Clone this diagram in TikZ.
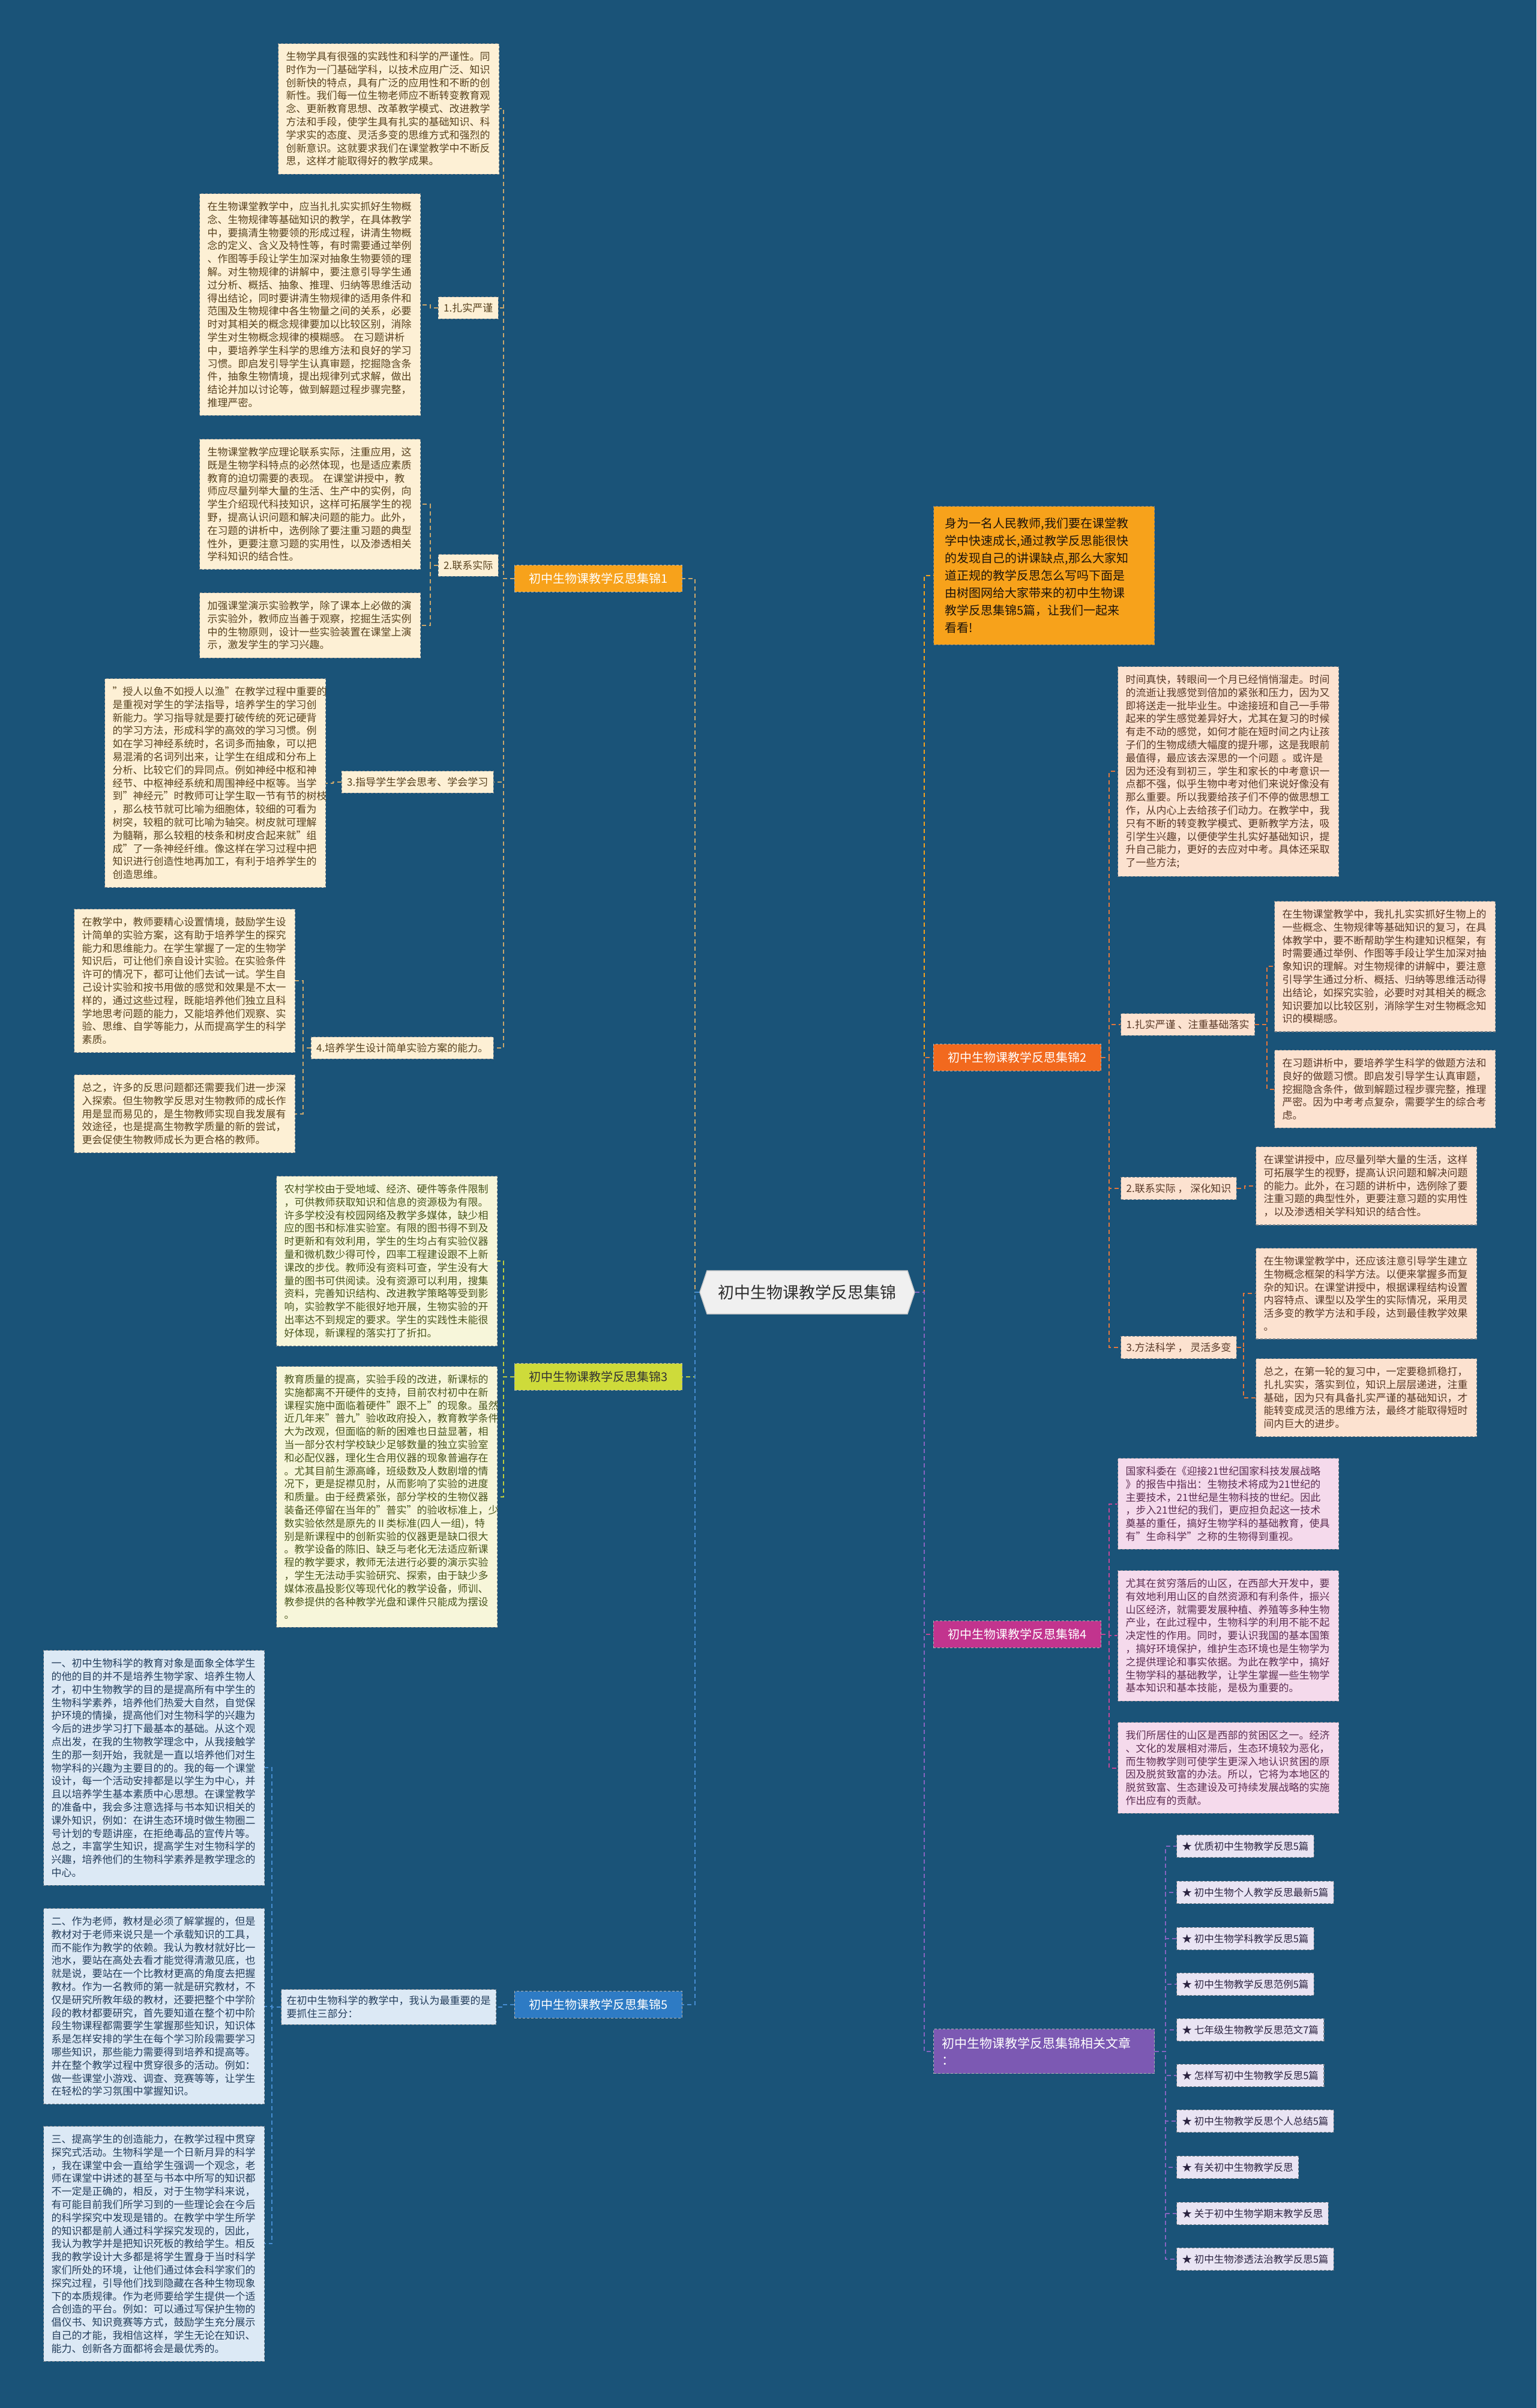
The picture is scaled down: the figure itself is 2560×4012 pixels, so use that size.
\documentclass[tikz,border=0pt]{standalone}
\usepackage{fontspec}
\setmainfont{Noto Sans CJK SC}
\usetikzlibrary{shapes.misc,shapes.symbols,calc}
\definecolor{bgc}{RGB}{26,83,120}
\definecolor{fillA}{RGB}{253,240,213}
\definecolor{textA}{RGB}{88,66,30}
\definecolor{lineA}{RGB}{201,166,108}
\definecolor{fillB}{RGB}{252,226,208}
\definecolor{textB}{RGB}{88,56,38}
\definecolor{lineB}{RGB}{226,118,60}
\definecolor{fillC}{RGB}{247,246,218}
\definecolor{textC}{RGB}{74,86,30}
\definecolor{lineC}{RGB}{190,205,60}
\definecolor{fillD}{RGB}{245,218,236}
\definecolor{textD}{RGB}{92,46,82}
\definecolor{lineD}{RGB}{196,70,150}
\definecolor{fillE}{RGB}{220,233,245}
\definecolor{textE}{RGB}{36,62,92}
\definecolor{lineE}{RGB}{70,140,208}
\definecolor{fillR}{RGB}{233,228,243}
\definecolor{textR}{RGB}{43,35,64}
\definecolor{lineR}{RGB}{134,100,192}
\definecolor{brA}{RGB}{247,162,27}
\definecolor{brB}{RGB}{242,105,30}
\definecolor{brC}{RGB}{206,219,58}
\definecolor{brD}{RGB}{194,52,142}
\definecolor{brE}{RGB}{46,123,196}
\definecolor{brR}{RGB}{124,89,179}
\definecolor{bordc}{RGB}{120,128,136}
\tikzset{
  boxbase/.style={anchor=north west, align=left, text width=342pt, inner xsep=13pt, inner ysep=13.5pt,
    font=\fontsize{17}{21.8}\selectfont, draw=bordc, dash pattern=on 4pt off 3pt, line width=1.2pt},
  boxA/.style={boxbase, fill=fillA, text=textA},
  boxB/.style={boxbase, fill=fillB, text=textB},
  boxC/.style={boxbase, fill=fillC, text=textC},
  boxD/.style={boxbase, fill=fillD, text=textD},
  boxE/.style={boxbase, fill=fillE, text=textE},
  labbase/.style={inner xsep=9pt, inner ysep=10.5pt, font=\fontsize{17}{21.8}\selectfont,
    draw=bordc, dash pattern=on 4pt off 3pt, line width=1.2pt},
  labA/.style={labbase, fill=fillA, text=textA},
  labB/.style={labbase, fill=fillB, text=textB},
  labE/.style={labbase, fill=fillE, text=textE, align=left},
  itemR/.style={labbase, anchor=west, fill=fillR, text=textR, font=\fontsize{16.5}{20}\selectfont, inner ysep=11pt},
  branch/.style={inner xsep=24pt, inner ysep=13pt, font=\fontsize{20}{24}\selectfont, text=white,
    draw=black!30, dash pattern=on 4pt off 3pt, line width=1pt},
  conn/.style={dash pattern=on 7pt off 5pt, line width=2pt},
  lnA/.style={conn, draw=lineA},
  lnB/.style={conn, draw=lineB},
  lnC/.style={conn, draw=lineC},
  lnD/.style={conn, draw=lineD},
  lnE/.style={conn, draw=lineE},
  lnR/.style={conn, draw=lineR},
  lnI/.style={conn, draw=brA}
}
\begin{document}
\begin{tikzpicture}[x=1pt,y=-1pt]
\fill[bgc] (0,0) rectangle (2560,4012);
\useasboundingbox (0,0) rectangle (2560,4012);

% ---------- centre ----------
\node[signal, signal to=west and east, signal pointer angle=143, draw=black!20, line width=1.5pt, fill=black!6, text=black!82,
  font=\fontsize{27}{32}\selectfont, minimum width=358pt, minimum height=72pt, inner xsep=14pt] (c) at (1345,2153) {初中生物课教学反思集锦};

% ---------- branches ----------
\node[branch, fill=brA] (b1) at (997,964) {初中生物课教学反思集锦1};
\node[branch, fill=brC, text=black!80] (b3) at (997,2294) {初中生物课教学反思集锦3};
\node[branch, fill=brE] (b5) at (997,3340) {初中生物课教学反思集锦5};
\node[branch, fill=brB] (b2) at (1695,1762) {初中生物课教学反思集锦2};
\node[branch, fill=brD] (b4) at (1695,2723) {初中生物课教学反思集锦4};

\node[anchor=north west, align=left, text width=330pt, inner xsep=19pt, inner ysep=19pt, fill=brA, text=black!85!brown,
  font=\fontsize{20}{29}\selectfont, draw=bordc, dash pattern=on 4pt off 3pt, line width=1.2pt] (intro) at (1555,843)
 {身为一名人民教师,我们要在课堂教\\学中快速成长,通过教学反思能很快\\的发现自己的讲课缺点,那么大家知\\道正规的教学反思怎么写吗下面是\\由树图网给大家带来的初中生物课\\教学反思集锦5篇，让我们一起来\\看看!};

\node[anchor=north west, align=left, text width=340pt, inner xsep=14pt, inner ysep=14pt, fill=brR, text=white,
  font=\fontsize{21}{28}\selectfont, draw=black!30, dash pattern=on 4pt off 3pt, line width=1pt] (rel) at (1555,3380)
 {初中生物课教学反思集锦相关文章\\：};

% ---------- section 1 ----------
\node[boxA] (box1) at (463,72) {生物学具有很强的实践性和科学的严谨性。同\\时作为一门基础学科，以技术应用广泛、知识\\创新快的特点，具有广泛的应用性和不断的创\\新性。我们每一位生物老师应不断转变教育观\\念、更新教育思想、改革教学模式、改进教学\\方法和手段，使学生具有扎实的基础知识、科\\学求实的态度、灵活多变的思维方式和强烈的\\创新意识。这就要求我们在课堂教学中不断反\\思，这样才能取得好的教学成果。};
\node[boxA] (box2) at (332,322) {在生物课堂教学中，应当扎扎实实抓好生物概\\念、生物规律等基础知识的教学，在具体教学\\中，要搞清生物要领的形成过程，讲清生物概\\念的定义、含义及特性等，有时需要通过举例\\、作图等手段让学生加深对抽象生物要领的理\\解。对生物规律的讲解中，要注意引导学生通\\过分析、概括、抽象、推理、归纳等思维活动\\得出结论，同时要讲清生物规律的适用条件和\\范围及生物规律中各生物量之间的关系，必要\\时对其相关的概念规律要加以比较区别，消除\\学生对生物概念规律的模糊感。 在习题讲析\\中，要培养学生科学的思维方法和良好的学习\\习惯。即启发引导学生认真审题，挖掘隐含条\\件，抽象生物情境，提出规律列式求解，做出\\结论并加以讨论等，做到解题过程步骤完整，\\推理严密。};
\node[labA, anchor=east] (lab1) at (831,513) {1.扎实严谨};
\node[boxA] (box3) at (332,731) {生物课堂教学应理论联系实际，注重应用，这\\既是生物学科特点的必然体现，也是适应素质\\教育的迫切需要的表现。 在课堂讲授中，教\\师应尽量列举大量的生活、生产中的实例，向\\学生介绍现代科技知识，这样可拓展学生的视\\野，提高认识问题和解决问题的能力。此外，\\在习题的讲析中，选例除了要注重习题的典型\\性外，更要注意习题的实用性，以及渗透相关\\学科知识的结合性。};
\node[boxA] (box4) at (332,987) {加强课堂演示实验教学，除了课本上必做的演\\示实验外，教师应当善于观察，挖掘生活实例\\中的生物原则，设计一些实验装置在课堂上演\\示，激发学生的学习兴趣。};
\node[labA, anchor=east] (lab2) at (831,942) {2.联系实际};
\node[boxA] (box5) at (174,1130) {"授人以鱼不如授人以渔"在教学过程中重要的\\是重视对学生的学法指导，培养学生的学习创\\新能力。学习指导就是要打破传统的死记硬背\\的学习方法，形成科学的高效的学习习惯。例\\如在学习神经系统时，名词多而抽象，可以把\\易混淆的名词列出来，让学生在组成和分布上\\分析、比较它们的异同点。例如神经中枢和神\\经节、中枢神经系统和周围神经中枢等。当学\\到"神经元"时教师可让学生取一节有节的树枝\\，那么枝节就可比喻为细胞体，较细的可看为\\树突，较粗的就可比喻为轴突。树皮就可理解\\为髓鞘，那么较粗的枝条和树皮合起来就"组\\成"了一条神经纤维。像这样在学习过程中把\\知识进行创造性地再加工，有利于培养学生的\\创造思维。};
\node[labA, anchor=east] (lab3) at (823,1303) {3.指导学生学会思考、学会学习};
\node[boxA] (box6) at (123,1514) {在教学中，教师要精心设置情境，鼓励学生设\\计简单的实验方案，这有助于培养学生的探究\\能力和思维能力。在学生掌握了一定的生物学\\知识后，可让他们亲自设计实验。在实验条件\\许可的情况下，都可让他们去试一试。学生自\\己设计实验和按书用做的感觉和效果是不太一\\样的，通过这些过程，既能培养他们独立且科\\学地思考问题的能力，又能培养他们观察、实\\验、思维、自学等能力，从而提高学生的科学\\素质。};
\node[boxA] (box7) at (123,1790) {总之，许多的反思问题都还需要我们进一步深\\入探索。但生物教学反思对生物教师的成长作\\用是显而易见的，是生物教师实现自我发展有\\效途径，也是提高生物教学质量的新的尝试，\\更会促使生物教师成长为更合格的教师。};
\node[labA, anchor=east] (lab4) at (823,1746) {4.培养学生设计简单实验方案的能力。};

% ---------- section 3 ----------
\node[boxC] (box8) at (460,1959) {农村学校由于受地域、经济、硬件等条件限制\\，可供教师获取知识和信息的资源极为有限。\\许多学校没有校园网络及教学多媒体，缺少相\\应的图书和标准实验室。有限的图书得不到及\\时更新和有效利用，学生的生均占有实验仪器\\量和微机数少得可怜，四率工程建设跟不上新\\课改的步伐。教师没有资料可查，学生没有大\\量的图书可供阅读。没有资源可以利用，搜集\\资料，完善知识结构、改进教学策略等受到影\\响，实验教学不能很好地开展，生物实验的开\\出率达不到规定的要求。学生的实践性未能很\\好体现，新课程的落实打了折扣。};
\node[boxC] (box9) at (460,2276) {教育质量的提高，实验手段的改进，新课标的\\实施都离不开硬件的支持，目前农村初中在新\\课程实施中面临着硬件"跟不上"的现象。虽然\\近几年来"普九"验收政府投入，教育教学条件\\大为改观，但面临的新的困难也日益显著，相\\当一部分农村学校缺少足够数量的独立实验室\\和必配仪器，理化生合用仪器的现象普遍存在\\。尤其目前生源高峰，班级数及人数剧增的情\\况下，更是捉襟见肘，从而影响了实验的进度\\和质量。由于经费紧张，部分学校的生物仪器\\装备还停留在当年的"普实"的验收标准上，少\\数实验依然是原先的Ⅱ类标准(四人一组)，特\\别是新课程中的创新实验的仪器更是缺口很大\\。教学设备的陈旧、缺乏与老化无法适应新课\\程的教学要求，教师无法进行必要的演示实验\\，学生无法动手实验研究、探索，由于缺少多\\媒体液晶投影仪等现代化的教学设备，师训、\\教参提供的各种教学光盘和课件只能成为摆设\\。};

% ---------- section 5 ----------
\node[boxE] (box10) at (72,2749) {一、初中生物科学的教育对象是面象全体学生\\的他的目的并不是培养生物学家、培养生物人\\才，初中生物教学的目的是提高所有中学生的\\生物科学素养，培养他们热爱大自然，自觉保\\护环境的情操，提高他们对生物科学的兴趣为\\今后的进步学习打下最基本的基础。从这个观\\点出发，在我的生物教学理念中，从我接触学\\生的那一刻开始，我就是一直以培养他们对生\\物学科的兴趣为主要目的的。我的每一个课堂\\设计，每一个活动安排都是以学生为中心，并\\且以培养学生基本素质中心思想。在课堂教学\\的准备中，我会多注意选择与书本知识相关的\\课外知识，例如：在讲生态环境时做生物圈二\\号计划的专题讲座，在拒绝毒品的宣传片等。\\总之，丰富学生知识，提高学生对生物科学的\\兴趣，培养他们的生物科学素养是教学理念的\\中心。};
\node[boxE] (box11) at (72,3179) {二、作为老师，教材是必须了解掌握的，但是\\教材对于老师来说只是一个承载知识的工具，\\而不能作为教学的依赖。我认为教材就好比一\\池水，要站在高处去看才能觉得清澈见底，也\\就是说，要站在一个比教材更高的角度去把握\\教材。作为一名教师的第一就是研究教材，不\\仅是研究所教年级的教材，还要把整个中学阶\\段的教材都要研究，首先要知道在整个初中阶\\段生物课程都需要学生掌握那些知识，知识体\\系是怎样安排的学生在每个学习阶段需要学习\\哪些知识，那些能力需要得到培养和提高等。\\并在整个教学过程中贯穿很多的活动。例如：\\做一些课堂小游戏、调查、竞赛等等，让学生\\在轻松的学习氛围中掌握知识。};
\node[boxE] (box12) at (72,3542) {三、提高学生的创造能力，在教学过程中贯穿\\探究式活动。生物科学是一个日新月异的科学\\，我在课堂中会一直给学生强调一个观念，老\\师在课堂中讲述的甚至与书本中所写的知识都\\不一定是正确的，相反，对于生物学科来说，\\有可能目前我们所学习到的一些理论会在今后\\的科学探究中发现是错的。在教学中学生所学\\的知识都是前人通过科学探究发现的，因此，\\我认为教学并是把知识死板的教给学生。相反\\我的教学设计大多都是将学生置身于当时科学\\家们所处的环境，让他们通过体会科学家们的\\探究过程，引导他们找到隐藏在各种生物现象\\下的本质规律。作为老师要给学生提供一个适\\合创造的平台。例如：可以通过写保护生物的\\倡仪书、知识竟赛等方式，鼓励学生充分展示\\自己的才能，我相信这样，学生无论在知识、\\能力、创新各方面都将会是最优秀的。};
\node[labE, anchor=north west] (lab5) at (468,3314) {在初中生物科学的教学中，我认为最重要的是\\要抓住三部分：};

% ---------- section 2 ----------
\node[boxB] (box13) at (1862,1110) {时间真快，转眼间一个月已经悄悄溜走。时间\\的流逝让我感觉到倍加的紧张和压力，因为又\\即将送走一批毕业生。中途接班和自己一手带\\起来的学生感觉差异好大，尤其在复习的时候\\有走不动的感觉，如何才能在短时间之内让孩\\子们的生物成绩大幅度的提升哪，这是我眼前\\最值得，最应该去深思的一个问题 。或许是\\因为还没有到初三，学生和家长的中考意识一\\点都不强，似乎生物中考对他们来说好像没有\\那么重要。所以我要给孩子们不停的做思想工\\作，从内心上去给孩子们动力。在教学中，我\\只有不断的转变教学模式、更新教学方法，吸\\引学生兴趣，以便使学生扎实好基础知识，提\\升自己能力，更好的去应对中考。具体还采取\\了一些方法;};
\node[labB, anchor=west] (labr1) at (1867,1707) {1.扎实严谨 、注重基础落实};
\node[boxB] (box14) at (2123,1501) {在生物课堂教学中，我扎扎实实抓好生物上的\\一些概念、生物规律等基础知识的复习，在具\\体教学中，要不断帮助学生构建知识框架，有\\时需要通过举例、作图等手段让学生加深对抽\\象知识的理解。对生物规律的讲解中，要注意\\引导学生通过分析、概括、归纳等思维活动得\\出结论，如探究实验，必要时对其相关的概念\\知识要加以比较区别，消除学生对生物概念知\\识的模糊感。};
\node[boxB] (box15) at (2123,1749) {在习题讲析中，要培养学生科学的做题方法和\\良好的做题习惯。即启发引导学生认真审题，\\挖掘隐含条件，做到解题过程步骤完整，推理\\严密。因为中考考点复杂，需要学生的综合考\\虑。};
\node[labB, anchor=west] (labr2) at (1867,1980) {2.联系实际 ， 深化知识};
\node[boxB] (box16) at (2092,1910) {在课堂讲授中，应尽量列举大量的生活，这样\\可拓展学生的视野，提高认识问题和解决问题\\的能力。此外，在习题的讲析中，选例除了要\\注重习题的典型性外，更要注意习题的实用性\\，以及渗透相关学科知识的结合性。};
\node[labB, anchor=west] (labr3) at (1867,2245) {3.方法科学 ， 灵活多变};
\node[boxB] (box17) at (2092,2079) {在生物课堂教学中，还应该注意引导学生建立\\生物概念框架的科学方法。以便来掌握多而复\\杂的知识。在课堂讲授中，根据课程结构设置\\内容特点、课型以及学生的实际情况，采用灵\\活多变的教学方法和手段，达到最佳教学效果\\。};
\node[boxB] (box18) at (2092,2263) {总之，在第一轮的复习中，一定要稳抓稳打，\\扎扎实实，落实到位，知识上层层递进，注重\\基础，因为只有具备扎实严谨的基础知识，才\\能转变成灵活的思维方法，最终才能取得短时\\间内巨大的进步。};

% ---------- section 4 ----------
\node[boxD] (box19) at (1862,2429) {国家科委在《迎接21世纪国家科技发展战略\\》的报告中指出：生物技术将成为21世纪的\\主要技术，21世纪是生物科技的世纪。因此\\，步入21世纪的我们，更应担负起这一技术\\奠基的重任，搞好生物学科的基础教育，使具\\有"生命科学"之称的生物得到重视。};
\node[boxD] (box20) at (1862,2616) {尤其在贫穷落后的山区，在西部大开发中，要\\有效地利用山区的自然资源和有利条件，振兴\\山区经济，就需要发展种植、养殖等多种生物\\产业，在此过程中，生物科学的利用不能不起\\决定性的作用。同时，要认识我国的基本国策\\，搞好环境保护，维护生态环境也是生物学为\\之提供理论和事实依据。为此在教学中，搞好\\生物学科的基础教学，让学生掌握一些生物学\\基本知识和基本技能，是极为重要的。};
\node[boxD] (box21) at (1862,2869) {我们所居住的山区是西部的贫困区之一。经济\\、文化的发展相对滞后，生态环境较为恶化，\\而生物教学则可使学生更深入地认识贫困的原\\因及脱贫致富的办法。所以，它将为本地区的\\脱贫致富、生态建设及可持续发展战略的实施\\作出应有的贡献。};

% ---------- related ----------
\node[itemR] (it1) at (1960,3076) {★ 优质初中生物教学反思5篇};
\node[itemR] (it2) at (1960,3153) {★ 初中生物个人教学反思最新5篇};
\node[itemR] (it3) at (1960,3230) {★ 初中生物学科教学反思5篇};
\node[itemR] (it4) at (1960,3306) {★ 初中生物教学反思范例5篇};
\node[itemR] (it5) at (1960,3382) {★ 七年级生物教学反思范文7篇};
\node[itemR] (it6) at (1960,3458) {★ 怎样写初中生物教学反思5篇};
\node[itemR] (it7) at (1960,3534) {★ 初中生物教学反思个人总结5篇};
\node[itemR] (it8) at (1960,3611) {★ 有关初中生物教学反思};
\node[itemR] (it9) at (1960,3688) {★ 关于初中生物学期末教学反思};
\node[itemR] (it10) at (1960,3764) {★ 初中生物渗透法治教学反思5篇};

% ---------- connectors ----------
\draw[lnA] (c.west) -- ++(-7,0) |- (b1.east);
\draw[lnC] (c.west) -- ++(-7,0) |- (b3.east);
\draw[lnE] (c.west) -- ++(-7,0) |- (b5.east);
\draw[lnI] (c.east) -- ++(15,0) |- (intro.west);
\draw[lnB] (c.east) -- ++(15,0) |- (b2.west);
\draw[lnD] (c.east) -- ++(15,0) |- (b4.west);
\draw[lnR] (c.east) -- ++(15,0) |- (rel.west);

\foreach \t in {box1,lab1,lab2,lab3,lab4}
  \draw[lnA] (b1.west) -- ++(-18,0) |- (\t.east);
\draw[lnA] (lab1.west) -- ++(-13,0) |- (box2.east);
\draw[lnA] (lab2.west) -- ++(-13,0) |- (box3.east);
\draw[lnA] (lab2.west) -- ++(-13,0) |- (box4.east);
\draw[lnA] (lab3.west) -- ++(-14,0) |- (box5.east);
\draw[lnA] (lab4.west) -- ++(-13,0) |- (box6.east);
\draw[lnA] (lab4.west) -- ++(-13,0) |- (box7.east);

\foreach \t in {box8,box9}
  \draw[lnC] (b3.west) -- ++(-18,0) |- (\t.east);

\draw[lnE] (b5.west) -- ++(-18,0) |- (lab5.east);
\foreach \t in {box10,box11,box12}
  \draw[lnE] (lab5.west) -- ++(-15,0) |- (\t.east);

\foreach \t in {box13,labr1,labr2,labr3}
  \draw[lnB] (b2.east) -- ++(13,0) |- (\t.west);
\foreach \t in {box14,box15}
  \draw[lnB] (labr1.east) -- ++(20,0) |- (\t.west);
\draw[lnB] (labr2.east) -- ++(13,0) |- (box16.west);
\foreach \t in {box17,box18}
  \draw[lnB] (labr3.east) -- ++(11,0) |- (\t.west);

\foreach \t in {box19,box20,box21}
  \draw[lnD] (b4.east) -- ++(13,0) |- (\t.west);

\foreach \t in {it1,it2,it3,it4,it5,it6,it7,it8,it9,it10}
  \draw[lnR] (rel.east) -- ++(18,0) |- (\t.west);
\end{tikzpicture}
\end{document}
